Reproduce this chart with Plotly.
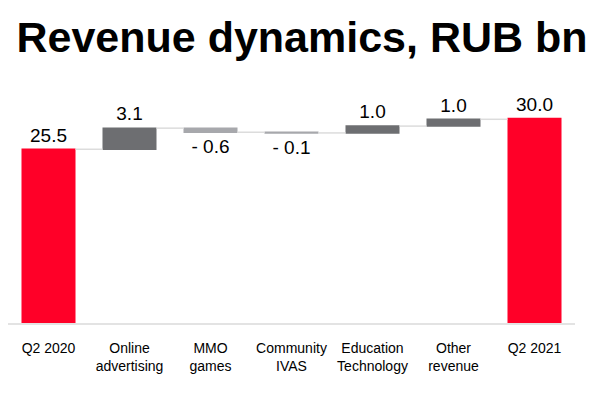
import plotly.graph_objects as go

categories = ["Q2 2020", "Online<br>advertising", "MMO<br>games", "Community<br>IVAS",
              "Education<br>Technology", "Other<br>revenue", "Q2 2021"]
values = [25.5, 3.1, -0.6, -0.1, 1.0, 1.0, 30.0]
measures = ["absolute", "relative", "relative", "relative", "relative", "relative", "absolute"]
labels = ["25.5", "3.1", "- 0.6", "- 0.1", "1.0", "1.0", "30.0"]

RED = "#FF0028"
DARK = "#6D6E71"
LIGHT = "#A7A8AC"

fig = go.Figure(go.Waterfall(
    x=categories,
    y=values,
    measure=measures,
    text=labels,
    textposition="outside",
    textfont=dict(family="Liberation Sans", size=19, color="#000000"),
    increasing=dict(marker=dict(color=DARK)),
    decreasing=dict(marker=dict(color=LIGHT)),
    totals=dict(marker=dict(color=RED)),
    connector=dict(line=dict(color="#DCDCDC", width=1.5)),
    cliponaxis=False,
    hoverinfo="skip",
))

fig.update_layout(
    width=604, height=395,
    margin=dict(l=8, r=29, t=90, b=72),
    paper_bgcolor="white", plot_bgcolor="white",
    waterfallgap=0.333,
    showlegend=False,
    title=dict(
        text="<b>Revenue dynamics, RUB bn</b>",
        font=dict(family="Liberation Sans", size=43, color="#000000"),
        x=302 / 604, xanchor="center", xref="container",
        y=1 - 37 / 395, yanchor="middle", yref="container",
    ),
    xaxis=dict(
        showline=True, linecolor="#E3E3E3", linewidth=2,
        showgrid=False, zeroline=False, ticks="",
        tickfont=dict(family="Liberation Sans", size=14, color="#000000"),
        ticklabelstandoff=11,
    ),
    yaxis=dict(
        range=[0, 34.2], visible=False, showgrid=False, zeroline=False,
    ),
)

fig.write_html("out.html", config={"displayModeBar": False},
               post_script="document.body.style.margin='0px';")
